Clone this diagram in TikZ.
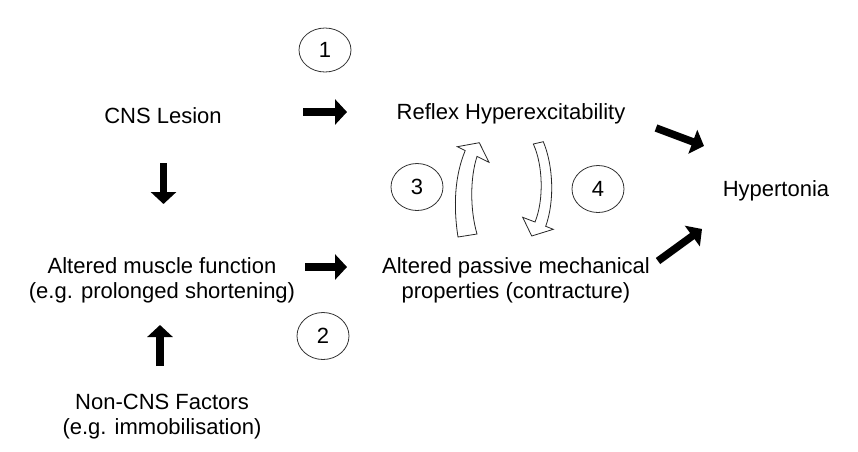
\documentclass[tikz,border=0pt]{standalone}
\usepackage{fontspec}
\setmainfont{Liberation Sans}
\usetikzlibrary{arrows.meta,shapes.geometric}
\begin{document}
\begin{tikzpicture}[x=1pt,y=-1pt,
  lbl/.style={font=\fontsize{22}{25}\selectfont, align=center, inner sep=0pt},
  numcirc/.style={ellipse, draw=black!80, line width=0.8pt, inner sep=0pt, minimum width=52pt, minimum height=47pt, font=\fontsize{22}{25}\selectfont},
  fatarrow/.style={line width=7.5pt, -{Triangle[length=12pt,width=25pt]}},
  hollow/.style={fill=white, draw=black!85, line width=0.8pt, line join=miter}]
\useasboundingbox (0,0) rectangle (858,451);
% labels
\node[lbl] (cns) at (163,116) {CNS Lesion};
\node[lbl] (reflex) at (511,114) {Reflex Hyperexcitability};
\node[lbl] (hyper) at (776,191) {Hypertonia};
\node[lbl] (muscle) at (162,280) {Altered muscle function\\(e.g. prolonged shortening)};
\node[lbl] (passive) at (516,280) {Altered passive mechanical\\properties (contracture)};
\node[lbl] (noncns) at (162,417) {Non-CNS Factors\\(e.g. immobilisation)};
% numbered circles
\node[numcirc, minimum height=44pt] (n1) at (325,50) {1};
\node[numcirc] (n2) at (323,336) {2};
\node[numcirc] (n3) at (417,187) {3};
\node[numcirc] (n4) at (598,189) {4};
% arrow end points
\coordinate (a1s) at (303,112); \coordinate (a1e) at (347,112);
\coordinate (a2s) at (163.5,163); \coordinate (a2e) at (163.5,204);
\coordinate (a3s) at (305,267); \coordinate (a3e) at (347,267);
\coordinate (a4s) at (160,366); \coordinate (a4e) at (160,325);
\coordinate (a5s) at (656,128); \coordinate (a5e) at (704,146);
\coordinate (a6s) at (658,261); \coordinate (a6e) at (702,229);
\draw[fatarrow] (a1s) -- (a1e);
\draw[fatarrow] (a2s) -- (a2e);
\draw[fatarrow] (a3s) -- (a3e);
\draw[fatarrow] (a4s) -- (a4e);
\draw[fatarrow] (a5s) -- (a5e);
\draw[fatarrow] (a6s) -- (a6e);
% hollow curved arrows
\draw[hollow] (457.3,146.7) -- (479.3,142.7) -- (489,162.3) -- (477,156.4)
  .. controls (470,178) and (470,210) .. (477,234) -- (458,237)
  .. controls (453,205) and (455,175) .. (465.2,150.6) -- cycle;
\draw[hollow] (533.3,144) -- (543.3,141.7)
  .. controls (553,165) and (555,200) .. (545.7,226.3) -- (553.3,229.3)
  -- (531.7,236) -- (522.7,217.3) -- (535,222)
  .. controls (544,200) and (543,165) .. (533.3,144) -- cycle;
\end{tikzpicture}
\end{document}
